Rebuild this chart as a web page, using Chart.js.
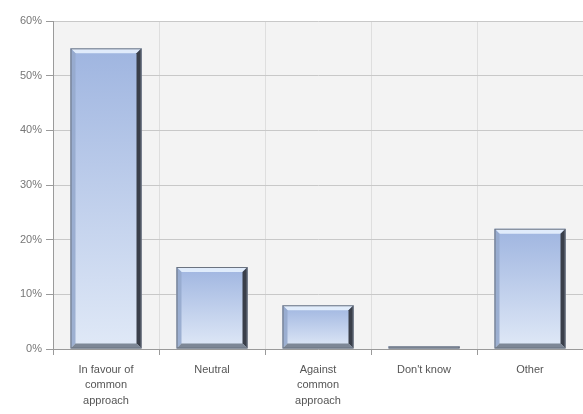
<!DOCTYPE html>
<html><head><meta charset="utf-8">
<script src="https://cdn.jsdelivr.net/npm/chart.js@4/dist/chart.umd.min.js"></script>
<style>html,body{margin:0;padding:0;background:#fff}#wrap{width:583px;height:414px}</style>
</head><body><div id="wrap"><canvas id="c" width="583" height="414"></canvas></div>
<script>
const categories = [["In favour of","common","approach"],"Neutral",["Against","common","approach"],"Don't know","Other"];
const values = [55, 15, 8, 0.5, 22];
const yTicks = [0,10,20,30,40,50,60];

const bgPlugin = {
  id:'bg',
  beforeDraw(chart){
    const {ctx, chartArea:a} = chart;
    ctx.save(); ctx.fillStyle='#f3f3f3';
    ctx.fillRect(a.left,a.top,a.right-a.left,a.bottom-a.top); ctx.restore();
  }
};
const bevelPlugin = {
  id:'bevel',
  afterDatasetsDraw(chart){
    const ctx = chart.ctx;
    chart.getDatasetMeta(0).data.forEach(el=>{
      const {x,y,base,width} = el.getProps(['x','y','base','width'],true);
      const l = x-width/2, r = x+width/2, t = y, b = base;
      const h = b-t; if(h<=0) return;
      const bw = Math.min(5, h/2);
      ctx.save();
      ctx.fillStyle='rgba(228,238,252,0.95)';
      ctx.beginPath(); ctx.moveTo(l,t); ctx.lineTo(r,t); ctx.lineTo(r-bw,t+bw); ctx.lineTo(l+bw,t+bw); ctx.closePath(); ctx.fill();
      ctx.fillStyle='#3a3f4a';
      ctx.beginPath(); ctx.moveTo(r,t); ctx.lineTo(r,b); ctx.lineTo(r-bw,b-bw); ctx.lineTo(r-bw,t+bw); ctx.closePath(); ctx.fill();
      ctx.fillStyle='rgba(150,170,205,0.9)';
      ctx.beginPath(); ctx.moveTo(l,t); ctx.lineTo(l+bw,t+bw); ctx.lineTo(l+bw,b-bw); ctx.lineTo(l,b); ctx.closePath(); ctx.fill();
      ctx.fillStyle='#7d8796';
      ctx.beginPath(); ctx.moveTo(l,b); ctx.lineTo(l+bw,b-bw); ctx.lineTo(r-bw,b-bw); ctx.lineTo(r,b); ctx.closePath(); ctx.fill();
      ctx.strokeStyle='#6b7380'; ctx.lineWidth=1;
      ctx.strokeRect(l+0.5,t+0.5,width-1,h-1);
      ctx.restore();
    });
  }
};

new Chart(document.getElementById('c'), {
  type:'bar',
  data:{labels:categories, datasets:[{data:values,
    backgroundColor(ctx){
      const ch = ctx.chart, a = ch.chartArea, ys = ch.scales && ch.scales.y;
      if(!a || !ys || ctx.parsed === undefined) return '#b8c9ea';
      const top = ys.getPixelForValue(ctx.parsed.y), bot = ys.getPixelForValue(0);
      if(!(bot-top>0)) return '#b8c9ea';
      const g = ch.ctx.createLinearGradient(0,top,0,bot);
      g.addColorStop(0,'#9fb5e0'); g.addColorStop(1,'#e0e9f7'); return g;
    },
    borderWidth:0, barPercentage:0.67, categoryPercentage:1}]},
  options:{
    responsive:false, animation:false,
    layout:{padding:{top:21,right:0,left:0,bottom:0}},
    plugins:{legend:{display:false},tooltip:{enabled:false}},
    scales:{
      x:{grid:{color:'#dedede',offset:true,drawTicks:true,tickLength:6,tickColor:'#9a9a9a'},
         border:{color:'#9a9a9a'},
         ticks:{color:'#555',font:{family:'Liberation Sans',size:11,lineHeight:1.4},padding:7,maxRotation:0},
         afterFit(s){s.height=65;}},
      y:{min:0,max:60,
         afterBuildTicks(s){s.ticks=yTicks.map(v=>({value:v}));},
         grid:{color:'#c8c8c8',tickLength:7,tickColor:'#9a9a9a'},
         border:{color:'#9a9a9a'},
         ticks:{color:'#777',font:{family:'Liberation Sans',size:11},padding:4,callback:v=>v+'%'},
         afterFit(s){s.width=53;}}
    }
  },
  plugins:[bgPlugin,bevelPlugin]
});
</script></body></html>
